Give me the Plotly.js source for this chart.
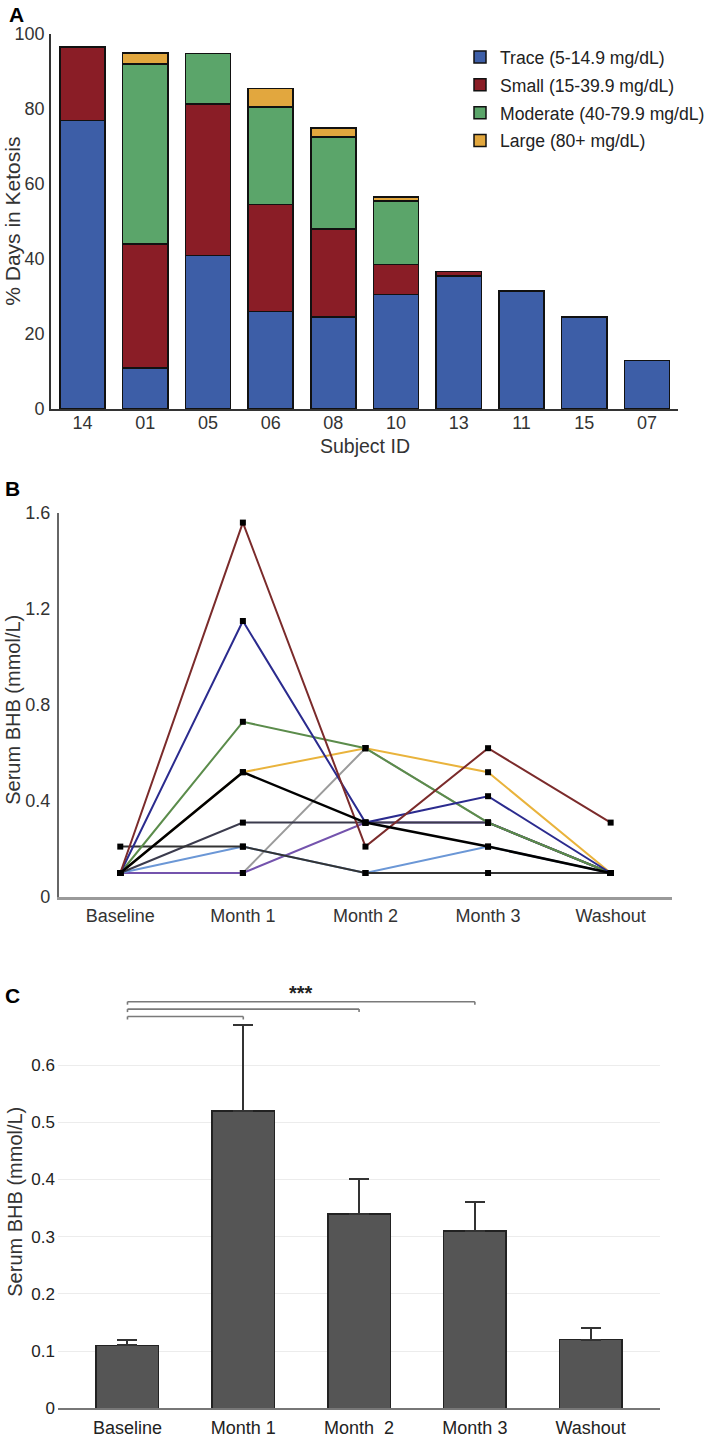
<!DOCTYPE html>
<html>
<head>
<meta charset="utf-8">
<script src="https://cdn.plot.ly/plotly-3.0.1.min.js"></script>
<style>
html,body{margin:0;padding:0;background:#fff;}
#chart{width:710px;height:1438px;}
</style>
</head>
<body>
<div id="chart"></div>
<script>
// ---------- Panel A data ----------
const subjectIds = ['14','01','05','06','08','10','13','11','15','07'];
const traceLevel    = [77, 11, 41, 26, 24.5, 30.5, 35.5, 31.5, 24.5, 13];
const smallLevel    = [19.5, 33, 40.3, 28.5, 23.5, 8, 1.2, 0, 0, 0];
const moderateLevel = [0, 48, 13.5, 26, 24.5, 17, 0, 0, 0, 0];
const largeLevel    = [0, 3, 0, 5, 2.5, 1, 0, 0, 0, 0];
const ketoneNames = ['Trace (5-14.9 mg/dL)','Small (15-39.9 mg/dL)','Moderate (40-79.9 mg/dL)','Large (80+ mg/dL)'];
const ketoneColors = ['#3d5ea7','#8a1d26','#5ba56a','#e2a73e'];

// ---------- Panel B data ----------
const timepoints = ['Baseline','Month 1','Month 2','Month 3','Washout'];
const bhbGray     = [0.1, 0.1, 0.62, 0.31, 0.1];
const bhbPurple   = [0.1, 0.1, 0.31, 0.31, 0.1];
const bhbLightBlue= [0.1, 0.21, 0.1, 0.21, 0.1];
const bhbSlate    = [0.1, 0.31, 0.31, 0.31, 0.1];
const bhbDark     = [0.21, 0.21, 0.1, 0.1, 0.1];
const bhbYellow   = [0.1, 0.52, 0.62, 0.52, 0.1];
const bhbGreen    = [0.1, 0.73, 0.62, 0.31, 0.1];
const bhbNavy     = [0.1, 1.15, 0.31, 0.42, 0.1];
const bhbMaroon   = [0.1, 1.56, 0.21, 0.62, 0.31];
const bhbBlack    = [0.1, 0.52, 0.31, 0.21, 0.1];

// ---------- Panel C data ----------
const phases = ['Baseline','Month 1','Month  2','Month 3','Washout'];
const meanBHB = [0.11, 0.52, 0.34, 0.31, 0.12];
const semBHB  = [0.01, 0.15, 0.06, 0.05, 0.02];
const sigPairs = [[0,1],[0,2],[0,3]];
const sigLabel = '***';

// ---------- layout helpers ----------
const W = 710, H = 1438;
const px = v => v / W;
const py = v => 1 - v / H;
const FONT = 'Liberation Sans, Arial, sans-serif';

const traces = [];
const levels = [traceLevel, smallLevel, moderateLevel, largeLevel];
levels.forEach((vals, i) => {
  traces.push({
    type: 'bar', x: subjectIds, y: vals, name: ketoneNames[i],
    xaxis: 'x', yaxis: 'y', width: 0.72, legendgroup: 'g' + i,
    marker: {color: ketoneColors[i], line: {color: '#111', width: 1.5}}
  });
});

const lineSeries = [
  {y: bhbGray, c: '#9b9b9b', w: 2},
  {y: bhbPurple, c: '#7453ad', w: 2},
  {y: bhbLightBlue, c: '#6b97d6', w: 2},
  {y: bhbSlate, c: '#3b3b4d', w: 2},
  {y: bhbDark, c: '#333333', w: 2},
  {y: bhbYellow, c: '#e9b33c', w: 2},
  {y: bhbGreen, c: '#5b8c4b', w: 2},
  {y: bhbNavy, c: '#2b2b8e', w: 2},
  {y: bhbMaroon, c: '#7b2b2b', w: 2},
  {y: bhbBlack, c: '#000000', w: 2.5}
];
lineSeries.forEach((s, i) => {
  traces.push({
    type: 'scatter', mode: 'lines+markers', x: timepoints, y: s.y,
    xaxis: 'x2', yaxis: 'y2', showlegend: false, name: 'Participant ' + (i + 1),
    line: {color: s.c, width: s.w},
    marker: {symbol: 'square', size: 6, color: '#000'}
  });
});

traces.push({
  type: 'bar', x: phases, y: meanBHB, xaxis: 'x3', yaxis: 'y3', showlegend: false,
  width: 0.54, name: 'Mean serum BHB',
  marker: {color: '#555555', line: {color: '#222', width: 1.5}},
  error_y: {type: 'data', array: semBHB, arrayminus: semBHB.map(() => 0), symmetric: false,
            color: '#333', thickness: 2, width: 10}
});

// significance brackets (panel C)
const shapes = [];
const bracketBase = 1016.5, bracketStep = 7.4, tickLen = 3;
sigPairs.forEach((p, i) => {
  const yy = py(bracketBase - i * bracketStep);
  const yt = py(bracketBase - i * bracketStep + tickLen);
  const st = {color: '#7a7a7a', width: 1.6};
  shapes.push({type: 'line', xref: 'x3', yref: 'paper', x0: p[0], x1: p[1], y0: yy, y1: yy, line: st});
  shapes.push({type: 'line', xref: 'x3', yref: 'paper', x0: p[0], x1: p[0], y0: yy, y1: yt, line: st});
  shapes.push({type: 'line', xref: 'x3', yref: 'paper', x0: p[1], x1: p[1], y0: yy, y1: yt, line: st});
});

const annBase = {showarrow: false, xref: 'paper', yref: 'paper', font: {family: FONT, color: '#222'}};
const annotations = [
  Object.assign({}, annBase, {text: '<b>A</b>', x: px(7), y: py(14), xanchor: 'left', yanchor: 'middle', font: {family: FONT, size: 21, color: '#000'}}),
  Object.assign({}, annBase, {text: '% Days in Ketosis', x: px(12), y: py(221), xanchor: 'center', yanchor: 'middle', textangle: -90, font: {family: FONT, size: 21, color: '#333'}}),
  Object.assign({}, annBase, {text: 'Subject ID', x: px(371), y: py(446), xanchor: 'center', yanchor: 'middle', font: {family: FONT, size: 19.5, color: '#333'}}),
  Object.assign({}, annBase, {text: '<b>B</b>', x: px(3), y: py(488), xanchor: 'left', yanchor: 'middle', font: {family: FONT, size: 21, color: '#000'}}),
  Object.assign({}, annBase, {text: 'Serum BHB (mmol/L)', x: px(13), y: py(710), xanchor: 'center', yanchor: 'middle', textangle: -90, font: {family: FONT, size: 20, color: '#333'}}),
  Object.assign({}, annBase, {text: '<b>C</b>', x: px(3), y: py(995), xanchor: 'left', yanchor: 'middle', font: {family: FONT, size: 21, color: '#000'}}),
  Object.assign({}, annBase, {text: 'Serum BHB (mmol/L)', x: px(15), y: py(1202), xanchor: 'center', yanchor: 'middle', textangle: -90, font: {family: FONT, size: 20, color: '#333'}}),
  {text: '<b>' + sigLabel + '</b>', showarrow: false, xref: 'x3', yref: 'paper', x: 1.5, y: py(993), xanchor: 'center', yanchor: 'middle', font: {family: FONT, size: 20, color: '#222'}}
];

const tickFont = {family: FONT, size: 18, color: '#333'};

const layout = {
  width: W, height: H,
  margin: {l: 0, r: 0, t: 0, b: 0},
  paper_bgcolor: '#fff', plot_bgcolor: 'rgba(0,0,0,0)',
  barmode: 'stack',
  font: {family: FONT},
  showlegend: true,
  legend: {x: px(468), y: py(39), xanchor: 'left', yanchor: 'top', traceorder: 'grouped', tracegroupgap: 2,
           font: {family: FONT, size: 17.6, color: '#222'}, bgcolor: 'rgba(0,0,0,0)', itemclick: false},
  xaxis: {domain: [px(52), px(690)], anchor: 'y', type: 'category', range: [-0.5, 9.5],
          showline: true, linecolor: '#333', linewidth: 2, ticks: '', showgrid: false,
          tickfont: tickFont, ticklabelstandoff: -4, fixedrange: true},
  yaxis: {domain: [py(409), py(34)], anchor: 'x', range: [0, 100], dtick: 20,
          showline: true, linecolor: '#333', linewidth: 2, ticks: '', showgrid: false, zeroline: false,
          tickfont: tickFont, ticklabelstandoff: 1, fixedrange: true},
  xaxis2: {domain: [px(60), px(683.5)], anchor: 'y2', type: 'category', range: [-0.5, 4.5],
           showline: true, linecolor: '#9a9a9a', linewidth: 2.5, ticks: '', showgrid: false,
           tickfont: {family: FONT, size: 18, color: '#333'}, ticklabelstandoff: 1, fixedrange: true},
  yaxis2: {domain: [py(897), py(513)], anchor: 'x2', range: [0, 1.6], tickvals: [0, 0.4, 0.8, 1.2, 1.6],
           ticktext: ['0', '0.4', '0.8', '1.2', '1.6'],
           showline: true, linecolor: '#666', linewidth: 2, ticks: '', showgrid: false, zeroline: false,
           tickfont: tickFont, ticklabelstandoff: 3, fixedrange: true},
  xaxis3: {domain: [px(59), px(671.5)], anchor: 'y3', type: 'category', range: [-0.6, 4.6],
           showline: true, linecolor: '#777', linewidth: 2, ticks: '', showgrid: false,
           tickfont: {family: FONT, size: 18, color: '#222'}, ticklabelstandoff: 2, fixedrange: true},
  yaxis3: {domain: [py(1408.3), py(985)], anchor: 'x3', range: [0, 0.74],
           tickvals: [0, 0.1, 0.2, 0.3, 0.4, 0.5, 0.6], ticktext: ['0','0.1','0.2','0.3','0.4','0.5','0.6'],
           showline: false, ticks: '', showgrid: true, gridcolor: '#ececec', gridwidth: 1, zeroline: false,
           tickfont: {family: FONT, size: 17, color: '#222'}, ticklabelstandoff: 2, fixedrange: true},
  shapes: shapes,
  annotations: annotations
};

Plotly.newPlot('chart', traces, layout, {staticPlot: true, displayModeBar: false});
</script>
</body>
</html>
